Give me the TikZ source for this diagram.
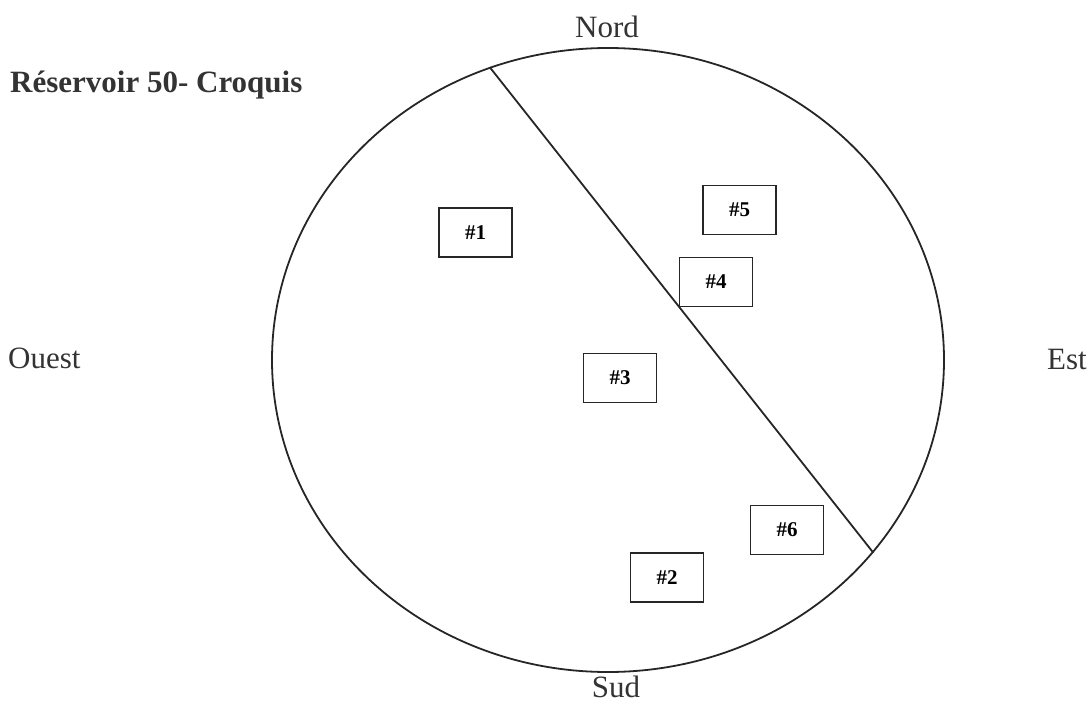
\documentclass[tikz,border=0pt]{standalone}
\usepackage{fontspec}
\setmainfont{Liberation Serif}
\usetikzlibrary{shapes, positioning}
\tikzstyle{bassin}=[ellipse, draw=black!85, line width=1.8pt, inner sep=0pt, minimum width=672pt, minimum height=624pt]
\tikzstyle{puits}=[rectangle, draw=black!85, line width=1.8pt, minimum width=73pt, minimum height=49pt, inner sep=0pt]
\tikzstyle{trait}=[line width=1.8pt, draw=black!85]
\tikzstyle{point}=[anchor=base, inner sep=0pt, text=black!80]
\newcommand{\dimg}{\fontsize{21}{24}\selectfont\bfseries}
\newcommand{\dcard}{\fontsize{31}{37}\selectfont}

\begin{document}
\begin{tikzpicture}[x=1pt, y=-1pt]
    \useasboundingbox (0,0) rectangle (1092,704);

    \node [bassin] (res) at (608,360) {};
    \draw [trait] (res.112.6) -- (res.-36.4);

    \node [point, font = \dcard\bfseries, anchor = base west] (titre) at (10,92) {Réservoir 50- Croquis};
    \node [point, font = \dcard] (nord) at (607,37) {Nord};
    \node [point, font = \dcard] (sud) at (616,697) {Sud};
    \node [point, font = \dcard, anchor = base west] (ouest) at (8,368) {Ouest};
    \node [point, font = \dcard, anchor = base west] (est) at (1047,369) {Est};

    \node [puits, font = \dimg] (p1) at (475.5,232.5) {\#1};
    \node [puits, font = \dimg] (p5) at (739.5,210) {\#5};
    \node [puits, font = \dimg] (p4) at (716,282) {\#4};
    \node [puits, font = \dimg] (p3) at (620,378) {\#3};
    \node [puits, font = \dimg] (p6) at (787,530) {\#6};
    \node [puits, font = \dimg] (p2) at (667,577.5) {\#2};
\end{tikzpicture}
\end{document}
